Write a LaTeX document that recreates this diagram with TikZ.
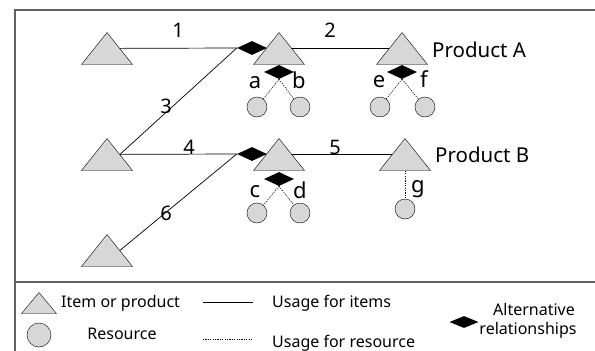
\documentclass[tikz,border=0pt]{standalone}
\usepackage{fontspec}
\setmainfont{Noto Sans}
\usetikzlibrary{shapes.geometric,positioning}
\definecolor{fillgray}{RGB}{215,215,215}
\definecolor{framegray}{RGB}{96,96,96}

\begin{document}
\begin{tikzpicture}[x=1pt,y=-1pt]
\tikzstyle{item}     = [isosceles triangle, isosceles triangle stretches, shape border rotate=90, minimum width=51pt, minimum height=32pt, inner sep=0pt, draw=black, fill=fillgray]
\tikzstyle{resource} = [circle, minimum size=20pt, inner sep=0pt, draw=black, fill=fillgray]
\tikzstyle{alt}      = [diamond, minimum width=30pt, minimum height=14pt, inner sep=0pt, fill=black]
\tikzstyle{usage}    = [line width=0.7pt]
\tikzstyle{resusage} = [line width=0.6pt, dash pattern=on 1.2pt off 1.2pt]
\tikzstyle{num}      = [font=\fontsize{20}{24}\selectfont, inner sep=0pt, anchor=base]
\tikzstyle{letter}   = [font=\fontsize{22}{26}\selectfont, inner sep=0pt, anchor=base]
\tikzstyle{product}  = [font=\fontsize{20.5}{24}\selectfont, inner sep=0pt, anchor=base west]
\tikzstyle{legend}   = [font=\fontsize{16}{19}\selectfont, inner sep=0pt, anchor=base west]

\useasboundingbox (0,0) rectangle (595,351);
\draw [framegray, line width=1.8pt] (595,10) -- (15,10) -- (15,352);
\draw [framegray, line width=1.8pt] (15,282) -- (595,282);

\node (d1) [alt] at (252,48) {};
\node (d2) [alt] at (252,154) {};

\node (t1) [item, anchor=apex] at (107,32)  {};
\node (t2) [item, anchor=apex] at (279,32)  {};
\node (t3) [item, anchor=apex] at (402,32)  {};
\node (t4) [item, anchor=apex] at (107,138) {};
\node (t5) [item, anchor=apex] at (279,138) {};
\node (t6) [item, anchor=apex] at (405,138) {};
\node (t7) [item, anchor=apex] at (107,234) {};

\node (prodA) [product] at (432,57)  {Product A};
\node (prodB) [product] at (435,162) {Product B};

\node (a1) [alt] at (279,72)  {};
\node (a2) [alt] at (402,72)  {};
\node (a3) [alt] at (279,179) {};

\node (ra) [resource] at (257,107) {};
\node (rb) [resource] at (300,107) {};
\node (re) [resource] at (380,107) {};
\node (rf) [resource] at (425,107) {};
\node (rc) [resource] at (257,213) {};
\node (rd) [resource] at (300,213) {};
\node (rg) [resource] at (405,209) {};

\draw [usage] (t1.right side) -- (d1.west);
\draw [usage] (t2.right side) -- (t3.left side);
\draw [usage] (t4.right side) -- (d1.west);
\draw [usage] (t4.right side) -- (d2.west);
\draw [usage] (t5.right side) -- (t6.left side);
\draw [usage] (t7.right side) -- (d2.west);

\draw [resusage] (a1.south) -- (ra);
\draw [resusage] (a1.south) -- (rb);
\draw [resusage] (a2.south) -- (re);
\draw [resusage] (a2.south) -- (rf);
\draw [resusage] (a3.south) -- (rc);
\draw [resusage] (a3.south) -- (rd);
\draw [resusage] (t6.south) -- (rg);

\node (n1) [num] at (178,37)  {1};
\node (n2) [num] at (330,37)  {2};
\node (n3) [num] at (166,113) {3};
\node (n4) [num] at (189,154) {4};
\node (n5) [num] at (335,154) {5};
\node (n6) [num] at (166,220) {6};

\node (la) [letter] at (255,88)  {a};
\node (lb) [letter] at (299,88)  {b};
\node (le) [letter] at (379,87)  {e};
\node (lf) [letter] at (424,87)  {f};
\node (lc) [letter] at (255,197) {c};
\node (ld) [letter] at (300,198) {d};
\node (lg) [letter] at (418,192) {g};

\node (keyitem) [item, minimum width=35pt, minimum height=21pt, anchor=apex] at (39,292) {};
\node (keyres)  [resource, minimum size=24pt] at (39,335) {};
\node (keyalt)  [alt, minimum width=29pt, minimum height=12pt] at (464,322) {};
\coordinate (keyu1) at (203,302);
\coordinate (keyu2) at (253,302);
\coordinate (keyv1) at (203,339);
\coordinate (keyv2) at (253,339);
\draw [usage]    (keyu1) -- (keyu2);
\draw [resusage] (keyv1) -- (keyv2);

\node (txtitem) [legend] at (61,307)  {Item or product};
\node (txtuse)  [legend] at (272,307) {Usage for items};
\node (txtres)  [legend, anchor=base] at (122,339) {Resource};
\node (txtuser) [legend] at (272,347) {Usage for resource};
\node (txtalt1) [legend, anchor=base] at (534,315) {Alternative};
\node (txtalt2) [legend, anchor=base] at (528,334) {relationships};
\end{tikzpicture}
\end{document}
